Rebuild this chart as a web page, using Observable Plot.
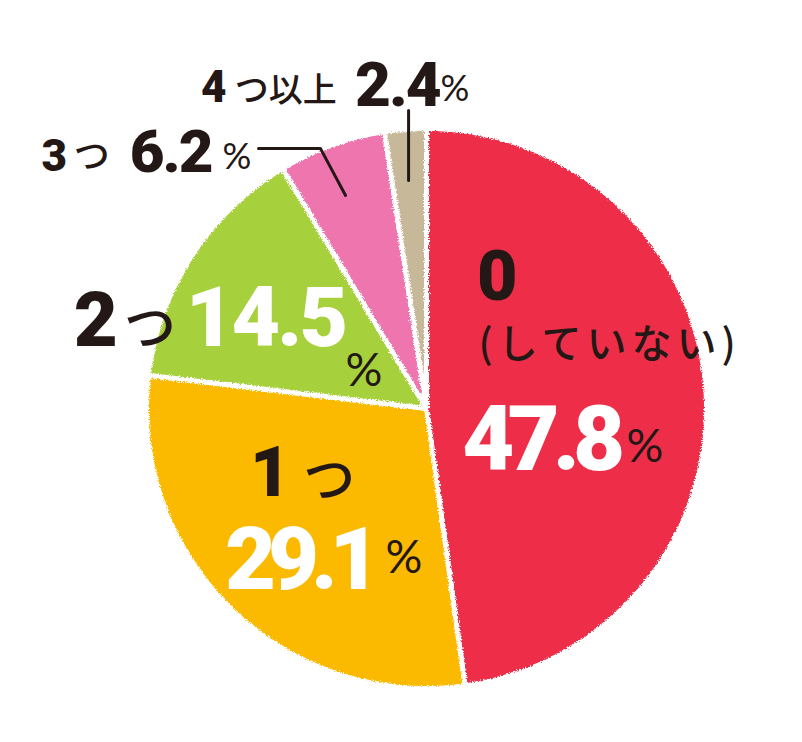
<!DOCTYPE html>
<html><head><meta charset="utf-8">
<script src="https://cdn.jsdelivr.net/npm/d3@7"></script>
<script src="https://cdn.jsdelivr.net/npm/@observablehq/plot@0.6"></script>
<style>
body{margin:0;background:#fff}
#chart{width:802px;height:742px}
</style>
</head><body><div id="chart"></div>
<script>
// Data
const categories = ["0", "1つ", "2つ", "3つ", "4つ以上"];
const values = [47.8, 29.1, 14.5, 6.2, 2.4];
const colors = ["#EE2D4A", "#FBBA00", "#A7D03C", "#EF74AE", "#C8B89A"];

// Annotation text pieces (positions in pie units: radius = 1)
const INK = "#231815";
const NUM = "Roboto, Lato, 'Noto Sans', sans-serif";
const PCT = "Lato, 'Noto Sans', sans-serif";
const JP = "'Noto Sans CJK JP', 'Noto Sans', sans-serif";
const annotations = [
  // 0 (していない) 47.8%
  {t: "0", x: 0.18, y: 0.386, size: 70, w: 900, c: INK, f: NUM},
  {t: "(していない)", x: 0.186, y: 0.179, size: 40, w: 500, c: INK, f: JP, ls: 5},
  {t: "47.8", x: 0.128, y: -0.221, size: 90, w: 900, c: "#fff", f: NUM, ls: -7},
  {t: "%", x: 0.714, y: -0.19, size: 46, w: 400, c: INK, f: PCT},
  // 1つ 29.1%
  {t: "1", x: -0.63, y: -0.311, size: 70, w: 900, c: INK, f: NUM},
  {t: "つ", x: -0.44, y: -0.318, size: 52, w: 500, c: INK, f: JP},
  {t: "29.1", x: -0.72, y: -0.643, size: 88, w: 900, c: "#fff", f: NUM, ls: -8},
  {t: "%", x: -0.146, y: -0.589, size: 46, w: 400, c: INK, f: PCT},
  // 2つ 14.5%
  {t: "2", x: -1.26, y: 0.225, size: 76, w: 900, c: INK, f: NUM},
  {t: "つ", x: -1.08, y: 0.225, size: 52, w: 500, c: INK, f: JP},
  {t: "14.5", x: -0.86, y: 0.225, size: 84, w: 900, c: "#fff", f: NUM, ls: -3},
  {t: "%", x: -0.289, y: 0.082, size: 46, w: 400, c: INK, f: PCT},
  // 3つ 6.2%
  {t: "3", x: -1.375, y: 0.85, size: 44, w: 900, c: INK, f: NUM},
  {t: "つ", x: -1.26, y: 0.857, size: 36, w: 500, c: INK, f: JP},
  {t: "6.2", x: -1.06, y: 0.843, size: 60, w: 900, c: INK, f: NUM, ls: -2},
  {t: "%", x: -0.729, y: 0.857, size: 36, w: 400, c: INK, f: PCT},
  // 4つ以上 2.4%
  {t: "4", x: -0.805, y: 1.093, size: 44, w: 900, c: INK, f: NUM},
  {t: "つ以上", x: -0.685, y: 1.093, size: 34, w: 500, c: INK, f: JP},
  {t: "2.4", x: -0.255, y: 1.079, size: 62, w: 900, c: INK, f: NUM, ls: -2},
  {t: "%", x: 0.05, y: 1.1, size: 36, w: 400, c: INK, f: PCT}
];

// Leader lines (pie units)
const leaders = [
  {k: "a", x: -0.6, y: 0.929}, {k: "a", x: -0.379, y: 0.929}, {k: "a", x: -0.289, y: 0.761},
  {k: "b", x: -0.064, y: 1.064}, {k: "b", x: -0.064, y: 0.814}
];

// Pie geometry from the values
const arcs = d3.pie().sort(null).value(d => d)(values);
const slicePts = arcs.flatMap((a, i) => {
  const n = Math.max(2, Math.ceil((a.endAngle - a.startAngle) / 0.01));
  const pts = [{key: categories[i], color: colors[i], x: 0, y: 0}];
  for (let k = 0; k <= n; k++) {
    const t = a.startAngle + (a.endAngle - a.startAngle) * k / n;
    pts.push({key: categories[i], color: colors[i], x: Math.sin(t), y: Math.cos(t)});
  }
  return pts;
});

const textMarks = annotations.map(a => Plot.text([a], {
  x: "x", y: "y", text: "t", textAnchor: "start", lineAnchor: "bottom",
  fontSize: a.size, fontWeight: a.w, fill: a.c, fontFamily: a.f
}));

const chart = Plot.plot({
  width: 802, height: 742,
  marginLeft: 146, marginRight: 96, marginTop: 128, marginBottom: 54,
  x: {domain: [-1, 1], axis: null},
  y: {domain: [-1, 1], axis: null},
  color: {type: "identity"},
  style: {fontFamily: JP, background: "#fff", overflow: "visible"},
  marks: [
    Plot.line(slicePts, {x: "x", y: "y", z: "key", fill: "color", stroke: "white",
      strokeWidth: 5, strokeLinejoin: "round", curve: "linear-closed"}),
    Plot.line(leaders, {x: "x", y: "y", z: "k", stroke: INK, strokeWidth: 3}),
    ...textMarks
  ]
});

const svg = d3.select(chart);
// letter spacing for the annotation pieces
const textGroups = svg.selectAll("g[aria-label='text']").nodes();
textGroups.forEach((g, i) => {
  const ls = annotations[i].ls;
  if (ls) d3.select(g).selectAll("text").style("letter-spacing", ls + "px");
});

// rough "torn paper" edge on the slices
const defs = svg.insert("defs", ":first-child");
const f = defs.append("filter").attr("id", "rough").attr("x", "-5%").attr("y", "-5%").attr("width", "110%").attr("height", "110%");
f.append("feTurbulence").attr("type", "fractalNoise").attr("baseFrequency", "0.9").attr("numOctaves", 2).attr("result", "n");
f.append("feDisplacementMap").attr("in", "SourceGraphic").attr("in2", "n").attr("scale", 5).attr("xChannelSelector", "R").attr("yChannelSelector", "G");
svg.select("g[aria-label='line']").attr("filter", "url(#rough)");

document.getElementById("chart").appendChild(chart);
</script>
</body></html>
